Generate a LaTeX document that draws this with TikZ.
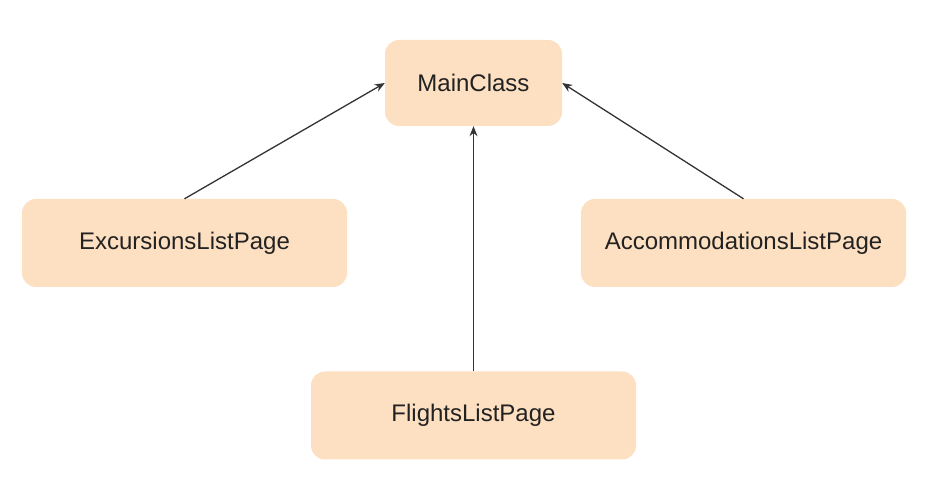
\documentclass[tikz,border=0pt]{standalone}
\usepackage{fontspec}
\setmainfont{Liberation Sans}
\usepackage{tikz}
\usetikzlibrary{
  arrows.meta,
  positioning
}
\definecolor{clsFill}{HTML}{FDDFC1}
\definecolor{clsText}{HTML}{222222}
\definecolor{clsLine}{HTML}{333333}

\begin{document}
\begin{tikzpicture}[x=1pt, y=1pt,
    classbox/.style={fill=clsFill, draw=none, rounded corners=14pt, text=clsText,
      minimum width=325pt, minimum height=88pt, font=\fontsize{24}{28}\selectfont},
    inherit/.style={draw=clsLine, line width=1.3pt, -{Stealth[length=10pt, width=8pt]}}]
  \useasboundingbox (0,0) rectangle (930,500);
  \node[classbox, minimum width=177pt, minimum height=86pt] (main) at (473.5,417) {MainClass};
  \node[classbox] (excursions) at (184.5,257) {ExcursionsListPage};
  \node[classbox] (accommodations) at (743.5,257) {AccommodationsListPage};
  \node[classbox] (flights) at (473.5,84.5) {FlightsListPage};
  \draw[inherit] (excursions.north) -- (main.west);
  \draw[inherit] (accommodations.north) -- (main.east);
  \draw[inherit] (flights.north) -- (main.south);
\end{tikzpicture}
\end{document}
